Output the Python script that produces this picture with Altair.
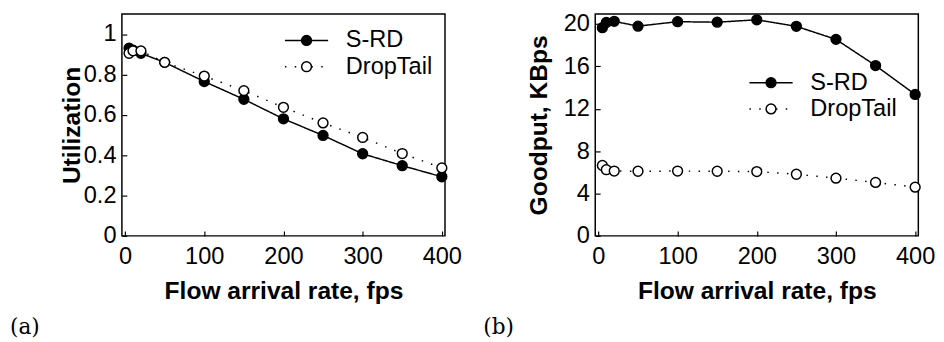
import altair as alt
import pandas as pd

# ---------------- data ----------------
rate = [5, 10, 20, 50, 100, 150, 200, 250, 300, 350, 400]
series_names = ["S-RD", "DropTail"]
line_codes = ["srd_line", "dt_line"]

util_srd = [0.93, 0.92, 0.905, 0.86, 0.765, 0.677, 0.58, 0.498, 0.407, 0.348, 0.293]
util_dt = [0.905, 0.917, 0.917, 0.86, 0.792, 0.72, 0.637, 0.56, 0.488, 0.408, 0.337]

good_srd = [19.65, 20.15, 20.25, 19.8, 20.22, 20.17, 20.4, 19.78, 18.55, 16.08, 13.35]
good_dt = [6.65, 6.25, 6.12, 6.1, 6.12, 6.1, 6.07, 5.82, 5.45, 5.05, 4.6]

x_ticks = [0, 100, 200, 300, 400]
util_ticks = [0, 0.2, 0.4, 0.6, 0.8, 1]
good_ticks = [0, 4, 8, 12, 16, 20]


def make_df(srd, dt):
    rows = []
    for name, code, vals in [(series_names[0], line_codes[0], srd),
                             (series_names[1], line_codes[1], dt)]:
        for x, v in zip(rate, vals):
            rows.append({"rate": x, "value": v, "series": name, "line": code})
    return pd.DataFrame(rows)


FONT = "Liberation Sans"
FS = 24
TFS = 25
LBL = "toString(datum.value)"


def panel(df, ydomain, yticks, ytitle, ytitle_x, lx, ly, tag):
    xenc = alt.X(
        "rate:Q",
        scale=alt.Scale(domain=[-4, 404], nice=False, zero=False),
        axis=alt.Axis(values=x_ticks, title="Flow arrival rate, fps", offset=-5,
                      tickSize=5, domain=False, grid=False, labelPadding=9,
                      titlePadding=11, labelExpr=LBL),
    )
    yenc = alt.Y(
        "value:Q",
        scale=alt.Scale(domain=ydomain, nice=False, zero=False),
        axis=alt.Axis(values=yticks, title=ytitle, offset=-5, tickSize=5,
                      domain=False, grid=False, labelPadding=6,
                      titleX=ytitle_x, titleBaseline="alphabetic",
                      labelExpr=LBL),
    )
    leg_common = dict(orient="none", legendX=lx, legendY=ly, title=None,
                      symbolSize=100, symbolStrokeColor="black",
                      symbolStrokeWidth=1.5, labelFontSize=FS, labelFont=FONT,
                      labelColor="black", labelOffset=28, rowPadding=2.7,
                      padding=0)
    lines = alt.Chart(df).mark_line(color="black", strokeWidth=1.5).encode(
        x=xenc,
        y=yenc,
        strokeDash=alt.StrokeDash(
            "line:N",
            scale=alt.Scale(domain=line_codes, range=[[1, 0], [1.5, 8.5]]),
            legend=alt.Legend(symbolType="M-4.4,0L-1,0M1,0L4.4,0",
                              labelExpr="' '", **leg_common),
        ),
    )
    points = alt.Chart(df).mark_point(
        shape="circle", filled=True, size=100, stroke="black",
        strokeWidth=1.5, opacity=1
    ).encode(
        x=xenc,
        y=yenc,
        fill=alt.Fill(
            "series:N",
            scale=alt.Scale(domain=series_names, range=["black", "white"]),
            legend=alt.Legend(symbolType="circle", **leg_common),
        ),
    )
    return alt.layer(lines, points).properties(
        width=329,
        height=226,
        title=alt.TitleParams(tag, orient="bottom", anchor="start", frame="group",
                              dx=-114, offset=14, font="DejaVu Serif",
                              fontSize=22, fontWeight="normal", color="black"),
    )


left = panel(make_df(util_srd, util_dt), [0, 1.1], util_ticks, "Utilization",
             -48, 176, 15, "(a)")
right = panel(make_df(good_srd, good_dt), [0, 20.95], good_ticks,
              "Goodput, KBps", -55, 167, 58, "(b)")

chart = alt.hconcat(left, right, spacing=20).resolve_scale(
    strokeDash="independent", fill="independent"
).properties(
    padding={"left": 1, "top": 0, "right": 0, "bottom": 0}
).configure_view(
    stroke="black", strokeWidth=1.5
).configure_axis(
    labelFont=FONT, labelFontSize=FS, labelColor="black",
    titleFont=FONT, titleFontSize=TFS, titleFontWeight="bold", titleColor="black",
    tickColor="black", tickWidth=1.2
).configure_legend(
    labelFont=FONT, labelFontSize=FS
)

chart.save("out.html", embed_options={"renderer": "svg", "actions": False})
